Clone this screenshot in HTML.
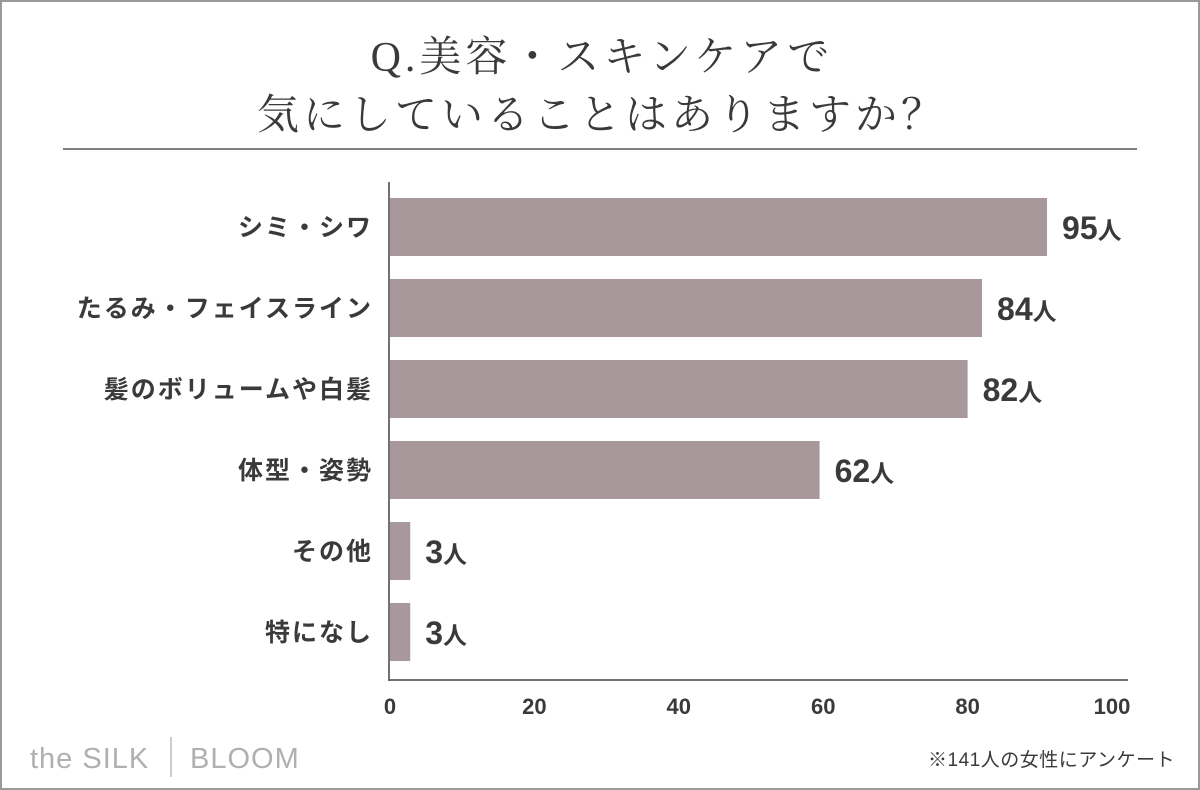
<!DOCTYPE html>
<html><head><meta charset="utf-8">
<style>
body{margin:0;background:#fff;}
#wrap{position:relative;width:1200px;height:790px;box-sizing:border-box;border:2px solid #9a9a9a;background:#fff;overflow:hidden;font-family:"Liberation Sans","Noto Sans CJK JP",sans-serif;}
.title{position:absolute;left:0;width:1200px;text-align:center;font-family:"Liberation Serif","Noto Serif CJK SC",serif;font-size:42px;color:#3a3a3a;letter-spacing:4px;}
</style></head><body>
<div id="wrap">
<div class="title" style="top:22px">Q.美容・スキンケアで</div>
<div class="title" style="top:80px">気にしていることはありますか？</div>
<svg id="chart" width="1200" height="790" style="position:absolute;left:-2px;top:-2px"></svg>
</div>
<script>
const categories=["シミ・シワ","たるみ・フェイスライン","髪のボリュームや白髪","体型・姿勢","その他","特になし"];
const barValues=[91,82,80,59.5,2.8,2.8];
const labelValues=[95,84,82,62,3,3];
const ticks=[0,20,40,60,80,100];
const svg=document.getElementById('chart');
const NS="http://www.w3.org/2000/svg";
const x0=390,x1=1112;
const xs=v=>x0+(x1-x0)*v/100;
const rowY=i=>227+i*81;
function mk(t,a,txt){const e=document.createElementNS(NS,t);for(const k in a)e.setAttribute(k,a[k]);if(txt!=null)e.textContent=txt;svg.appendChild(e);return e;}
let e;
e=mk('line',{x1:63,y1:149,x2:1137,y2:149,stroke:'#555','stroke-width':1.5});


categories.forEach((c,i)=>{
 const y=rowY(i);
 e=mk('rect',{x:x0,y:y-29,width:xs(barValues[i])-x0,height:58,fill:'#a8979b'});
 
 
 e=mk('text',{x:373,y:y+9,'text-anchor':'end','font-size':25,'font-weight':'bold',fill:'#3a3a3a','letter-spacing':2},c);
 
 
 e=mk('text',{x:xs(barValues[i])+15,y:y+12,'font-size':32,'font-weight':'bold',fill:'#3a3a3a'});
 
 
 const t1=document.createElementNS(NS,'tspan');t1.textContent=labelValues[i];e.appendChild(t1);
 const t2=document.createElementNS(NS,'tspan');t2.setAttribute('font-size',24);t2.textContent='人';e.appendChild(t2);
});
e=mk('line',{x1:389,y1:182,x2:389,y2:681,stroke:'#444','stroke-width':1.5});


e=mk('line',{x1:389,y1:680,x2:1128,y2:680,stroke:'#444','stroke-width':1.5});


ticks.forEach(t=>{
 e=mk('text',{x:xs(t),y:714,'text-anchor':'middle','font-size':22,'font-weight':'bold',fill:'#3a3a3a'},t);
 
 
});
e=mk('text',{x:30,y:768,'font-size':29,fill:'#b0b0b0','letter-spacing':1},'the SILK');


e=mk('line',{x1:171,y1:737,x2:171,y2:777,stroke:'#bbb','stroke-width':1.5});


e=mk('text',{x:190,y:768,'font-size':29,fill:'#b0b0b0','letter-spacing':1},'BLOOM');


e=mk('text',{x:1175,y:766,'text-anchor':'end','font-size':19,fill:'#3a3a3a','letter-spacing':0.5},'※141人の女性にアンケート');


</script>
</body></html>
